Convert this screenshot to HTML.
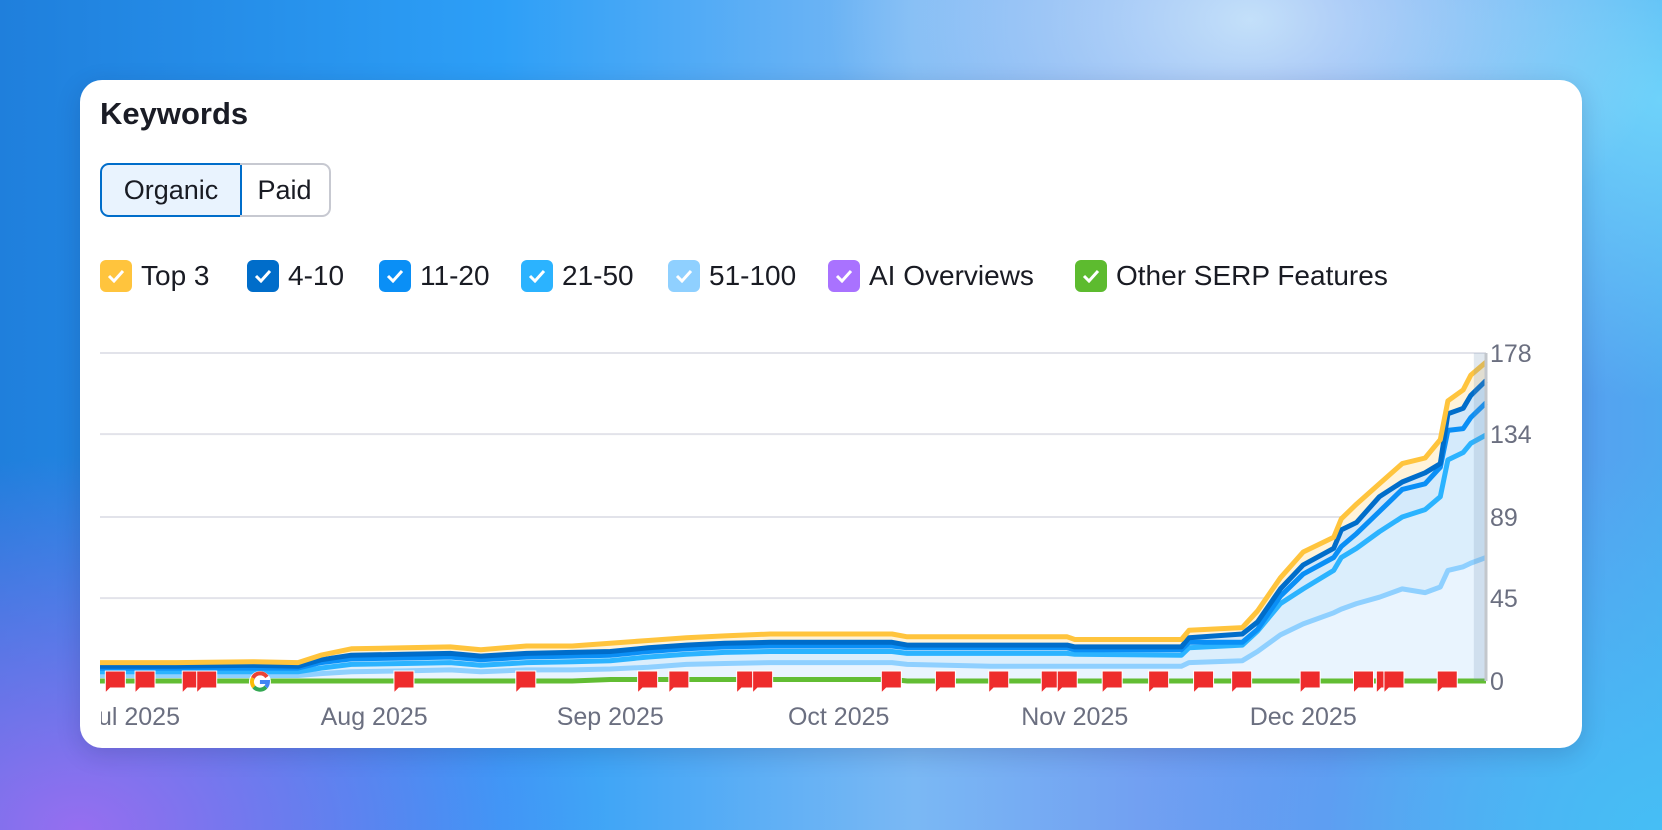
<!DOCTYPE html>
<html><head><meta charset="utf-8">
<style>
html,body{margin:0;padding:0;width:1662px;height:830px;overflow:hidden;font-family:"Liberation Sans",sans-serif;}
#bg{position:absolute;left:0;top:0;width:1662px;height:830px;
background:
radial-gradient(ellipse 600px 400px at 1250px 20px, rgba(200,228,250,0.95), rgba(200,228,250,0) 70%),
radial-gradient(ellipse 700px 500px at 80px 830px, rgba(150,110,240,1), rgba(150,110,240,0) 75%),
radial-gradient(ellipse 700px 500px at 1662px 830px, rgba(70,190,245,1), rgba(70,190,245,0) 75%),
radial-gradient(ellipse 500px 400px at 1662px 100px, rgba(110,210,250,1), rgba(110,210,250,0) 75%),
linear-gradient(90deg,#1f7fdc 0%,#2d9ff7 30%,#7ab8f4 55%,#6b8cf0 80%,#4fa8f0 100%);}
#card{position:absolute;left:80px;top:80px;width:1502px;height:668px;background:#fff;border-radius:22px;box-shadow:0 6px 24px rgba(20,30,80,0.18);}
.abs{position:absolute;}
#title{left:100px;top:96px;font-size:31px;font-weight:bold;color:#1a1c25;}
.tog{top:163px;height:54px;box-sizing:border-box;font-size:27px;color:#191b23;display:flex;align-items:center;justify-content:center;}
#org{left:100px;width:142px;background:#e9f3fe;border:2px solid #006dca;border-radius:9px 0 0 9px;}
#paid{left:240px;width:91px;border:2px solid #c7c9d1;border-left:none;border-radius:0 9px 9px 0;}
.lg{top:260px;height:32px;display:flex;align-items:center;font-size:28px;color:#191b23;}
.cb{width:32px;height:32px;border-radius:6px;margin-right:9px;display:flex;align-items:center;justify-content:center;}
.cb svg{width:18px;height:14px;}
</style></head><body>
<div id="bg"></div>
<div id="card"></div>
<div id="title" class="abs">Keywords</div>
<div id="org" class="abs tog">Organic</div>
<div id="paid" class="abs tog">Paid</div>

<div class="abs lg" style="left:100px"><div class="cb" style="background:#ffc43d"><svg viewBox="0 0 18 14"><path d="M2 7l5 5 9-10" stroke="#fff" stroke-width="3" fill="none"/></svg></div>Top 3</div>
<div class="abs lg" style="left:247px"><div class="cb" style="background:#006dca"><svg viewBox="0 0 18 14"><path d="M2 7l5 5 9-10" stroke="#fff" stroke-width="3" fill="none"/></svg></div>4-10</div>
<div class="abs lg" style="left:379px"><div class="cb" style="background:#0a8ff6"><svg viewBox="0 0 18 14"><path d="M2 7l5 5 9-10" stroke="#fff" stroke-width="3" fill="none"/></svg></div>11-20</div>
<div class="abs lg" style="left:521px"><div class="cb" style="background:#2bb3ff"><svg viewBox="0 0 18 14"><path d="M2 7l5 5 9-10" stroke="#fff" stroke-width="3" fill="none"/></svg></div>21-50</div>
<div class="abs lg" style="left:668px"><div class="cb" style="background:#8fd0ff"><svg viewBox="0 0 18 14"><path d="M2 7l5 5 9-10" stroke="#fff" stroke-width="3" fill="none"/></svg></div>51-100</div>
<div class="abs lg" style="left:828px"><div class="cb" style="background:#a972ff"><svg viewBox="0 0 18 14"><path d="M2 7l5 5 9-10" stroke="#fff" stroke-width="3" fill="none"/></svg></div>AI Overviews</div>
<div class="abs lg" style="left:1075px"><div class="cb" style="background:#5dbb2f"><svg viewBox="0 0 18 14"><path d="M2 7l5 5 9-10" stroke="#fff" stroke-width="3" fill="none"/></svg></div>Other SERP Features</div>

<svg id="chart" class="abs" style="left:0;top:0" width="1662" height="830">
<defs><clipPath id="xclip"><rect x="101" y="690" width="1480" height="60"/></clipPath></defs>
<g id="grid"></g><g id="areas"></g><g id="lines"></g><g id="marks"></g><g id="axes"></g>
</svg>

<script>
const days   = [0,10,20,26,29,33,40,46,50,56,62,67,72,77,82,88,104,106,117,127,128,142,143,150,152,155,158,162,163,165,168,171,174,176,177,179,180,182];
const top3   = [10,10,10.5,10,14,17.5,18,18.5,17,19,19,20.5,22,23.5,24.5,25.5,25.5,24,24,24,22.5,22.5,27.5,29,38,56,70,78,88,96,107,118,121,131,152,158,166,173];
const pos410 = [8,8,8.5,8,11.5,14,14.5,15,13.5,15,15.5,16,18,19.5,20.5,21,21,19.5,19.5,19.5,18.5,18.5,23.5,25.5,32,50,63,72,82,86,100,108,113,118,145,148,155,163];
const pos1120= [7,7,7,7,10,12,12.5,13,11.5,13,13.5,14,16,17.5,18.5,19,19,18,18,18,17,17,21,21,28,46,58,67,73,80,92,104,107,116,136,137,143,151];
const pos2150= [5,5,5,5,7,9,9.5,10,8.5,10,10.5,11,13,14.5,15.5,16,16,15,15,15,14.5,14,18,19.5,27,42,50,60,67,72,81,89,93,100,120,124,129,133.5];
const pos51100=[3,3,3,3,4,5,5.5,6,5,6,6,6.5,7.5,9,9.5,10,10,9,8,8,8,8,10,11,16,25,31,37,39,42,45.5,50,48,51,60,62,64,67];
const serp   = [0,0,0,0,0,0,0,0,0,0,0,0.8,0.8,0.8,0.8,0.8,0.8,0,0,0,0,0,0,0,0,0,0,0,0,0,0,0,0,0,0,0,0,0];
const yTicks = [0,45,89,134,178];
const monthLabels = ["Jul 2025","Aug 2025","Sep 2025","Oct 2025","Nov 2025","Dec 2025"];
const monthDays = [4.3,36,67,97,128,158];
const eventDays = [0.7,4.6,10.8,12.7,38.6,54.6,70.6,74.7,83.6,85.7,102.6,109.7,116.7,123.6,125.7,131.6,137.7,143.6,148.6,157.6,164.6,167.6,168.6,175.6];
const googleDays = [21];

const X0=100, X1=1486, D0=0, D1=182, Y0=681, Y1=353, V1=178;
const xS = d => X0 + (d-D0)/(D1-D0)*(X1-X0);
const yS = v => Y0 - v/V1*(Y0-Y1);
const NS="http://www.w3.org/2000/svg";
function mk(tag, attrs, parent){const e=document.createElementNS(NS,tag);for(const k in attrs)e.setAttribute(k,attrs[k]);parent.appendChild(e);return e;}
const G=document.getElementById('grid'),A=document.getElementById('areas'),L=document.getElementById('lines'),M=document.getElementById('marks'),AX=document.getElementById('axes');

yTicks.forEach(t=>{
  if(t>0){const gl=mk('line',{x1:X0,x2:X1,y1:yS(t),y2:yS(t),stroke:'#e2e3ea','stroke-width':2},G);
  
  }
  const tx=mk('text',{x:1490,y:yS(t)+9,'font-size':25,fill:'#6b6f80','font-family':'Liberation Sans, sans-serif'},AX);
  tx.textContent=t;
  
  
});

const series=[
 {name:'top-3',vals:top3,color:'#ffc43d',fill:'#fff3da'},
 {name:'4-10',vals:pos410,color:'#006dca',fill:'#d3e7f8'},
 {name:'11-20',vals:pos1120,color:'#0a8ff6',fill:'#d4eafb'},
 {name:'21-50',vals:pos2150,color:'#2bb3ff',fill:'#dbeefc'},
 {name:'51-100',vals:pos51100,color:'#8fd0ff',fill:'#e9f4fe'}
];
function pts(vals){return days.map((d,i)=>xS(d).toFixed(1)+','+yS(vals[i]).toFixed(1)).join(' ');}
series.forEach(s=>{
  const ar=mk('polygon',{points:pts(s.vals)+' '+xS(days[days.length-1])+','+Y0+' '+xS(days[0])+','+Y0,fill:s.fill},A);
  
  
});
[...series].reverse().forEach(s=>{
  const ln=mk('polyline',{points:pts(s.vals),fill:'none',stroke:s.color,'stroke-width':5,'stroke-linejoin':'round'},L);
  
  
});
const sl=mk('polyline',{points:pts(serp),fill:'none',stroke:'#62bd33','stroke-width':5},L);



const sh=mk('rect',{x:xS(180.4),y:Y1,width:X1-xS(180.4),height:Y0-Y1,fill:'rgba(120,150,180,0.22)'},L);


const gbl=mk('line',{x1:X1,x2:X1,y1:Y1,y2:Y0,stroke:'#c3c7cc','stroke-width':3},L);



eventDays.forEach((d,i)=>{
  const x=xS(d);
  const f=mk('path',{d:`M${x},671 h20 v17 h-15 l-5,5 z`,fill:'#ee2c2c',stroke:'#fff','stroke-width':1},M);
  
  
});
googleDays.forEach(d=>{
  const x=xS(d),y=682;
  const g=mk('g',{},M);
  
  
  mk('circle',{cx:x,cy:y,r:11,fill:'#fff'},g);
  mk('path',{d:`M${x+7},${y-5} A8 8 0 0 0 ${x-7},${y-4}`,stroke:'#ea4335','stroke-width':4,fill:'none'},g);
  mk('path',{d:`M${x-7},${y-4} A8 8 0 0 0 ${x-6},${y+5}`,stroke:'#fbbc05','stroke-width':4,fill:'none'},g);
  mk('path',{d:`M${x-6},${y+5} A8 8 0 0 0 ${x+6},${y+5}`,stroke:'#34a853','stroke-width':4,fill:'none'},g);
  mk('path',{d:`M${x+6},${y+5} A8 8 0 0 0 ${x+8},${y} H${x}`,stroke:'#4285f4','stroke-width':4,fill:'none'},g);
});
const xg=mk('g',{'clip-path':'url(#xclip)'},AX);
monthLabels.forEach((m,i)=>{
  const t=mk('text',{x:xS(monthDays[i]),y:725,'text-anchor':'middle','font-size':25,fill:'#6b6f80','font-family':'Liberation Sans, sans-serif'},xg);
  t.textContent=m;
  
  
});
</script>
</body></html>
